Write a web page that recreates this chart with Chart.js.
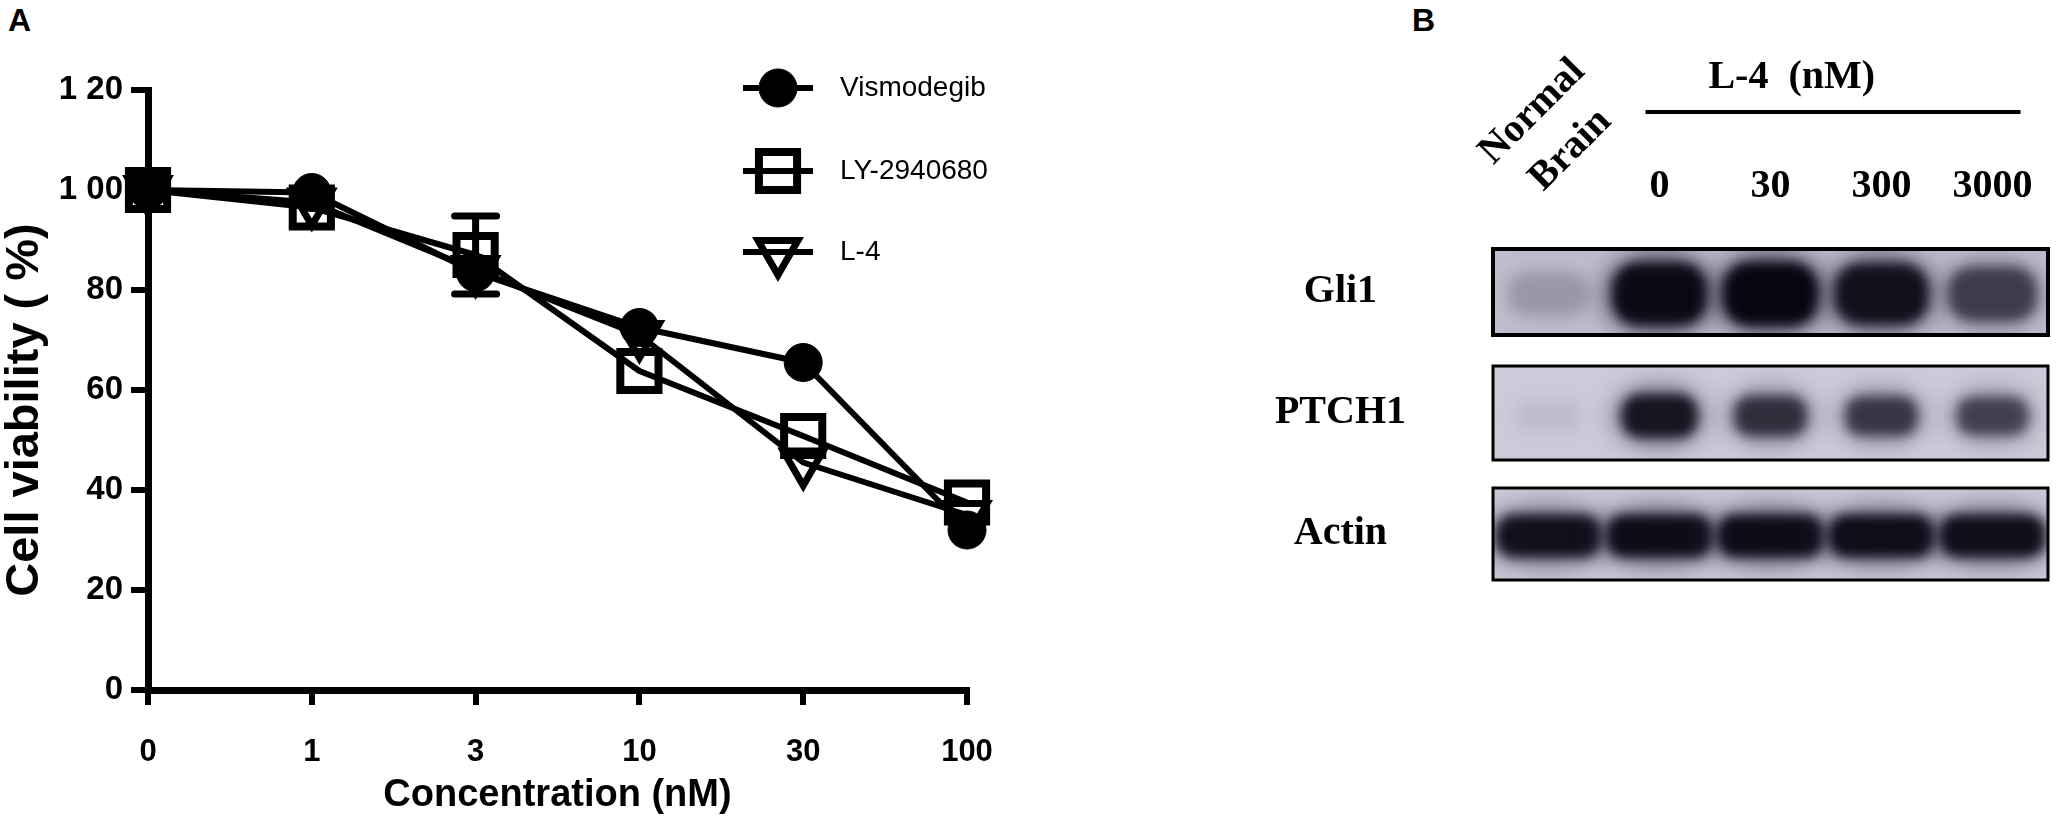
<!DOCTYPE html>
<html>
<head>
<meta charset="utf-8">
<title>Cell viability and Hh pathway blot</title>
<script src="https://cdn.jsdelivr.net/npm/chart.js@4.4.1/dist/chart.umd.min.js"></script>
<style>
  html, body { margin: 0; padding: 0; background: #fff; }
  #page { position: relative; width: 2057px; height: 826px; overflow: hidden; background: #fff; }
  canvas { position: absolute; top: 0; }
  #chartA { left: 0; }
  #chartB { left: 1100px; }
  .panel-label { position: absolute; top: 4px; margin: 0; font: bold 32px "Liberation Sans", Arial, sans-serif; line-height: 1; color: #000; }
</style>
</head>
<body>
<div id="page">
  <div class="panel-label" style="left:8px">A</div>
  <div class="panel-label" style="left:1412px">B</div>
  <canvas id="chartA" width="1100" height="826"></canvas>
  <canvas id="chartB" width="957" height="826"></canvas>
</div>
<script>
// panel A: cell viability (%)
const concentrations = ['0', '1', '3', '10', '30', '100'];
const vismodegib = [100, 99.5, 83.5, 72.5, 65.5, 32];
const ly2940680 = [100, 96.5, 87, 63.8, 50.8, 37.5];
const l4 = [100, 97.5, 84, 71, 45.5, 35];
const ly2940680Err = [0, 0, 7.8, 0, 0, 0];
const yTickLabels = ['0', '20', '40', '60', '80', '1 00', '1 20'];

// panel B: band darkness per lane (0 = none, 1 = saturated)
const lanes = ['Normal Brain', '0', '30', '300', '3000'];
const proteins = ['Gli1', 'PTCH1', 'Actin'];
const gli1 = [0.15, 0.97, 1, 0.9, 0.6];
const ptch1 = [0.05, 0.88, 0.7, 0.66, 0.6];
const actin = [0.92, 0.95, 0.95, 0.94, 0.93];

const SANS = '"Liberation Sans", Arial, sans-serif';
const SERIF = '"Liberation Serif", "Times New Roman", serif';

const errorBarsA = {
    id: 'errorBarsA',
    afterDatasetsDraw(chart) {
        const { ctx, scales: { x, y } } = chart;
        ctx.save();
        ctx.strokeStyle = '#000';
        ctx.lineWidth = 7;
        ctx.lineCap = 'round';
        ly2940680Err.forEach((e, i) => {
            if (!e) return;
            const px = x.getPixelForValue(i);
            const hi = y.getPixelForValue(ly2940680[i] + e);
            const lo = y.getPixelForValue(ly2940680[i] - e);
            ctx.beginPath();
            ctx.moveTo(px, hi); ctx.lineTo(px, lo);
            ctx.moveTo(px - 21, hi); ctx.lineTo(px + 21, hi);
            ctx.moveTo(px - 21, lo); ctx.lineTo(px + 21, lo);
            ctx.stroke();
        });
        ctx.restore();
    }
};

const legendA = {
    id: 'legendA',
    afterDraw(chart) {
        const ctx = chart.ctx;
        const rowY = [88, 171, 252];
        ctx.save();
        chart.data.datasets.forEach((ds, i) => {
            const y = rowY[i];
            ctx.strokeStyle = '#000';
            ctx.lineWidth = 6;
            ctx.beginPath();
            ctx.moveTo(743, y); ctx.lineTo(813, y);
            ctx.stroke();
            ctx.fillStyle = ds.pointBackgroundColor;
            ctx.lineWidth = ds.pointBorderWidth;
            Chart.helpers.drawPoint(ctx, {
                pointStyle: ds.pointStyle,
                rotation: ds.pointRotation || 0,
                radius: ds.pointRadius,
                borderWidth: ds.pointBorderWidth
            }, 778, y);
            ctx.fillStyle = '#000';
            ctx.font = '28px ' + SANS;
            ctx.textAlign = 'left';
            ctx.textBaseline = 'middle';
            ctx.fillText(ds.label, 840, y);
        });
        // y axis title
        ctx.translate(25, 410);
        ctx.rotate(-Math.PI / 2);
        ctx.font = 'bold 47px ' + SANS;
        ctx.textAlign = 'center';
        ctx.textBaseline = 'middle';
        ctx.fillStyle = '#000';
        ctx.fillText('Cell viability ( %)', 0, 0);
        ctx.restore();
    }
};

const chartA = new Chart(document.getElementById('chartA').getContext('2d'), {
    type: 'line',
    data: {
        labels: concentrations,
        datasets: [{
            label: 'Vismodegib',
            data: vismodegib,
            borderColor: '#000',
            borderWidth: 6,
            pointStyle: 'circle',
            pointRadius: 19,
            pointBorderWidth: 1,
            pointBorderColor: '#000',
            pointBackgroundColor: '#000'
        }, {
            label: 'LY-2940680',
            data: ly2940680,
            borderColor: '#000',
            borderWidth: 6,
            pointStyle: 'rect',
            pointRadius: 27,
            pointBorderWidth: 8,
            pointBorderColor: '#000',
            pointBackgroundColor: 'rgba(0,0,0,0)'
        }, {
            label: 'L-4',
            data: l4,
            borderColor: '#000',
            borderWidth: 6,
            pointStyle: 'triangle',
            pointRotation: 180,
            pointRadius: 23,
            pointBorderWidth: 7,
            pointBorderColor: '#000',
            pointBackgroundColor: 'rgba(0,0,0,0)'
        }]
    },
    options: {
        responsive: false,
        animation: false,
        devicePixelRatio: 1,
        layout: { padding: { top: 90, right: 133, bottom: 0, left: 0 } },
        plugins: { legend: { display: false }, tooltip: { enabled: false } },
        elements: { line: { tension: 0, borderJoinStyle: 'round', borderCapStyle: 'round', fill: false } },
        datasets: { line: { clip: false } },
        scales: {
            x: {
                offset: false,
                grid: { drawOnChartArea: false, drawTicks: true, tickLength: 15, lineWidth: 6, color: '#000' },
                border: { display: true, width: 7, color: '#000' },
                ticks: { color: '#000', font: { family: SANS, size: 31, weight: 'bold' }, padding: 29, maxRotation: 0 },
                title: {
                    display: true,
                    text: 'Concentration (nM)',
                    color: '#000',
                    font: { family: SANS, size: 38, weight: 'bold' },
                    padding: { top: 0, bottom: 8 }
                },
                afterFit(scale) { scale.height = 136; }
            },
            y: {
                min: 0,
                max: 120,
                grid: { drawOnChartArea: false, drawTicks: true, tickLength: 17, lineWidth: 6, color: '#000' },
                border: { display: true, width: 7, color: '#000' },
                ticks: {
                    stepSize: 20,
                    color: '#000',
                    padding: 8,
                    font: { family: SANS, size: 33, weight: 'bold' },
                    callback: (v) => yTickLabels[v / 20]
                },
                afterFit(scale) { scale.width = 148; }
            }
        }
    },
    plugins: [errorBarsA, legendA]
});

// panel B: western blot drawn on a lane x protein grid
const bandRows = [gli1, ptch1, actin];
const blotStyle = [
    { bg: '#c0bece', half: 43, border: 4, bandW: 0.86, bandH: 64, dy: 2 },
    { bg: '#cdcad9', half: 47, border: 3, bandW: 0.7, bandH: 46, dy: 3 },
    { bg: '#cbc8d7', half: 46, border: 3, bandW: 0.96, bandH: 44, dy: 2 }
];

function drawBand(ctx, x, y, w, h, v) {
    ctx.filter = 'blur(12px)';
    ctx.fillStyle = 'rgba(40, 36, 60, ' + (0.55 * v) + ')';
    ctx.beginPath();
    ctx.ellipse(x, y, w * 0.62, h * 0.72, 0, 0, Math.PI * 2);
    ctx.fill();
    ctx.filter = 'blur(6px)';
    ctx.fillStyle = 'rgba(8, 6, 18, ' + Math.min(1, v) + ')';
    ctx.beginPath();
    ctx.roundRect(x - w / 2, y - h / 2, w, h, h / 2.4);
    ctx.fill();
    ctx.filter = 'none';
}

const blotPlugin = {
    id: 'blot',
    beforeDatasetsDraw(chart) {
        const { ctx, chartArea, scales: { x } } = chart;
        const laneW = x.getPixelForValue(1) - x.getPixelForValue(0);
        chart.data.datasets.forEach((ds, r) => {
            const meta = chart.getDatasetMeta(r);
            const st = blotStyle[r];
            const top = meta.data[0].y - st.half;
            const w = chartArea.right - chartArea.left;
            ctx.save();
            ctx.beginPath();
            ctx.rect(chartArea.left, top, w, st.half * 2);
            ctx.clip();
            ctx.fillStyle = st.bg;
            ctx.fillRect(chartArea.left, top, w, st.half * 2);
            meta.data.forEach((pt, i) => {
                const v = ds.data[i].v;
                drawBand(ctx, pt.x, pt.y + st.dy, laneW * st.bandW * (0.8 + 0.2 * v), st.bandH * (0.6 + 0.4 * v), v);
            });
            ctx.restore();
            ctx.save();
            ctx.strokeStyle = '#000';
            ctx.lineWidth = st.border;
            ctx.strokeRect(chartArea.left, top, w, st.half * 2);
            ctx.restore();
        });
    },
    afterDraw(chart) {
        const { ctx, scales: { x } } = chart;
        const first = x.getPixelForValue(1) - 14;
        const last = x.getPixelForValue(4) + 28;
        ctx.save();
        ctx.fillStyle = '#000';
        ctx.font = 'bold 40px ' + SERIF;
        ctx.textAlign = 'center';
        ctx.textBaseline = 'middle';
        ctx.fillText('L-4  (nM)', first + 0.39 * (last - first), 78);
        ctx.strokeStyle = '#000';
        ctx.lineWidth = 4;
        ctx.beginPath();
        ctx.moveTo(first, 112); ctx.lineTo(last, 112);
        ctx.stroke();
        ctx.translate(x.getPixelForValue(0) + 3, 131);
        ctx.rotate(-Math.PI / 4);
        ctx.fillText('Normal', 0, -27);
        ctx.fillText('Brain', 0, 27);
        ctx.restore();
    }
};

const chartB = new Chart(document.getElementById('chartB').getContext('2d'), {
    type: 'scatter',
    data: {
        datasets: proteins.map((p, r) => ({
            label: p,
            data: lanes.map((lane, i) => ({ x: lane, y: p, v: bandRows[r][i] })),
            pointRadius: 0
        }))
    },
    options: {
        responsive: false,
        animation: false,
        devicePixelRatio: 1,
        layout: { padding: { top: 0, right: 9, bottom: 231.5, left: 0 } },
        plugins: { legend: { display: false }, tooltip: { enabled: false } },
        scales: {
            x: {
                type: 'category',
                labels: lanes,
                position: 'top',
                offset: true,
                grid: { display: false, drawTicks: false },
                border: { display: false },
                ticks: {
                    color: '#000',
                    padding: 21,
                    maxRotation: 0,
                    autoSkip: false,
                    font: { family: SERIF, size: 40, weight: 'bold' },
                    callback: (v, i) => (i === 0 ? '' : lanes[i])
                },
                afterFit(scale) { scale.height = 231.5; }
            },
            y: {
                type: 'category',
                labels: proteins,
                offset: true,
                grid: { display: false, drawTicks: false },
                border: { display: false },
                ticks: {
                    color: '#000',
                    padding: 87,
                    crossAlign: 'center',
                    font: { family: SERIF, size: 40, weight: 'bold' }
                },
                afterFit(scale) { scale.width = 393; }
            }
        }
    },
    plugins: [blotPlugin]
});
</script>
</body>
</html>
